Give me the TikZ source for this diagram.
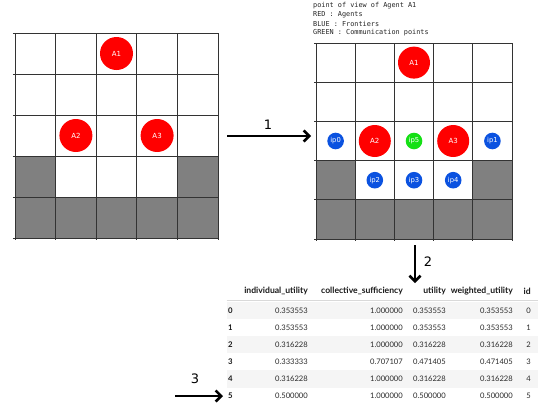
\documentclass[tikz,border=0pt]{standalone}
\usepackage{fontspec}
\setmainfont{DejaVu Sans}
\newfontfamily\monof{DejaVu Sans Mono}
\newfontfamily\tabf{Lato}
\usetikzlibrary{arrows.meta}
\definecolor{agentred}{HTML}{FF0000}
\definecolor{frontblue}{HTML}{0B52E0}
\definecolor{commgreen}{HTML}{14E014}
\definecolor{cellgray}{HTML}{808080}
\definecolor{gridline}{HTML}{333333}
\definecolor{stripe}{HTML}{F5F5F5}
\definecolor{tabtext}{HTML}{2B2B2B}
\tikzset{
  gridln/.style={draw=gridline, line width=1pt},
  agent/.style={circle, fill=agentred, inner sep=0pt, text=white, font=\fontsize{7}{7}\selectfont},
  front/.style={circle, fill=frontblue, inner sep=0pt, minimum size=16.6pt, text=white, font=\fontsize{6.8}{6.8}\selectfont},
  comm/.style={circle, fill=commgreen, inner sep=0pt, minimum size=16.6pt, text=white, font=\fontsize{6.8}{6.8}\selectfont},
  bigarrow/.style={line width=2.6pt, -{Straight Barb[length=5.5pt,width=11pt,line width=2.6pt]}},
  steplabel/.style={font=\fontsize{13}{13}\selectfont, inner sep=0pt},
  legend/.style={font=\monof\fontsize{6.85}{6.85}\selectfont, text=black!85, anchor=west, inner sep=0pt},
  hdr/.style={font=\tabf\bfseries\fontsize{8.6}{8.6}\selectfont, text=black!90, inner sep=0pt},
  val/.style={font=\tabf\fontsize{7.6}{7.6}\selectfont, text=tabtext, inner sep=0pt, anchor=east},
  idx/.style={font=\tabf\bfseries\fontsize{7.8}{7.8}\selectfont, text=black!90, inner sep=0pt, anchor=west},
}
\begin{document}
\begin{tikzpicture}[x=1pt,y=-1pt]
\useasboundingbox[fill=white] (0,0) rectangle (538,410);
% ---------- left grid ----------
\begin{scope}[shift={(15,33)}, x=40.6pt, y=-41pt]
  \fill[cellgray] (0,3) rectangle (1,5);
  \fill[cellgray] (4,3) rectangle (5,5);
  \fill[cellgray] (1,4) rectangle (4,5);
  \foreach \i in {0,...,5} {
    \draw[gridln] (\i,0) -- (\i,5.05);
    \draw[gridln] (-0.05,\i) -- (5,\i);
  }
  \node[agent, minimum size=33pt] (LA1) at (2.5,0.5) {A1};
  \node[agent, minimum size=33pt] (LA2) at (1.5,2.5) {A2};
  \node[agent, minimum size=33pt] (LA3) at (3.5,2.5) {A3};
\end{scope}
% ---------- right legend ----------
\node[legend] (t1) at (313,6) {point of view of Agent A1};
\node[legend] (t2) at (313,15) {RED : Agents};
\node[legend] (t3) at (313,24) {BLUE : Frontiers};
\node[legend] (t4) at (313,33) {GREEN : Communication points};
% ---------- right grid ----------
\begin{scope}[shift={(316,43)}, x=39.2pt, y=-39.2pt]
  \fill[cellgray] (0,3) rectangle (1,5);
  \fill[cellgray] (4,3) rectangle (5,5);
  \fill[cellgray] (1,4) rectangle (4,5);
  \foreach \i in {0,...,5} {
    \draw[gridln] (\i,0) -- (\i,5.05);
    \draw[gridln] (-0.05,\i) -- (5,\i);
  }
  \node[agent, minimum size=32pt] (RA1) at (2.5,0.5) {A1};
  \node[agent, minimum size=32pt] (RA2) at (1.5,2.5) {A2};
  \node[agent, minimum size=32pt] (RA3) at (3.5,2.5) {A3};
  \node[front] (ip0) at (0.5,2.5) {ip0};
  \node[front] (ip1) at (4.5,2.5) {ip1};
  \node[comm]  (ip5) at (2.5,2.5) {ip5};
  \node[front] (ip2) at (1.5,3.5) {ip2};
  \node[front] (ip3) at (2.5,3.5) {ip3};
  \node[front] (ip4) at (3.5,3.5) {ip4};
\end{scope}
% ---------- arrows ----------
\coordinate (a1s) at (227,136);
\coordinate (a1e) at (311,136);
\draw[bigarrow] (a1s) -- (a1e);
\node[steplabel] (n1) at (268,125) {1};
\coordinate (a2s) at (415,245);
\coordinate (a2e) at (415,283);
\draw[bigarrow] (a2s) -- (a2e);
\node[steplabel] (n2) at (428,262) {2};
\coordinate (a3s) at (175,396);
\coordinate (a3e) at (223,396);
\draw[bigarrow] (a3s) -- (a3e);
\node[steplabel] (n3) at (195,379) {3};
% ---------- table ----------
\foreach \r in {0,2,4} {
  \fill[stripe] (226.5,{302+17.1*\r}) rectangle (538,{302+17.1*(\r+1)});
}
\draw[black!15, line width=0.6pt] (226.5,300.5) -- (538,300.5);
\node[hdr, anchor=east] (h1) at (308,291.5) {individual\_utility};
\node[hdr, anchor=east] (h2) at (403,291.5) {collective\_sufficiency};
\node[hdr, anchor=east] (h3) at (446,291.5) {utility};
\node[hdr, anchor=east] (h4) at (513,291.5) {weighted\_utility};
\node[hdr, anchor=east] (h5) at (531,291.5) {id};
\foreach \r/\a/\b/\c/\d in {
  0/0.353553/1.000000/0.353553/0.353553,
  1/0.353553/1.000000/0.353553/0.353553,
  2/0.316228/1.000000/0.316228/0.316228,
  3/0.333333/0.707107/0.471405/0.471405,
  4/0.316228/1.000000/0.316228/0.316228,
  5/0.500000/1.000000/0.500000/0.500000} {
  \node[idx] (i\r) at (228,{310.5+17.1*\r}) {\r};
  \node[val] (va\r) at (308,{310.5+17.1*\r}) {\a};
  \node[val] (vb\r) at (403,{310.5+17.1*\r}) {\b};
  \node[val] (vc\r) at (446,{310.5+17.1*\r}) {\c};
  \node[val] (vd\r) at (513,{310.5+17.1*\r}) {\d};
  \node[val] (ve\r) at (531,{310.5+17.1*\r}) {\r};
}
\end{tikzpicture}
\end{document}
